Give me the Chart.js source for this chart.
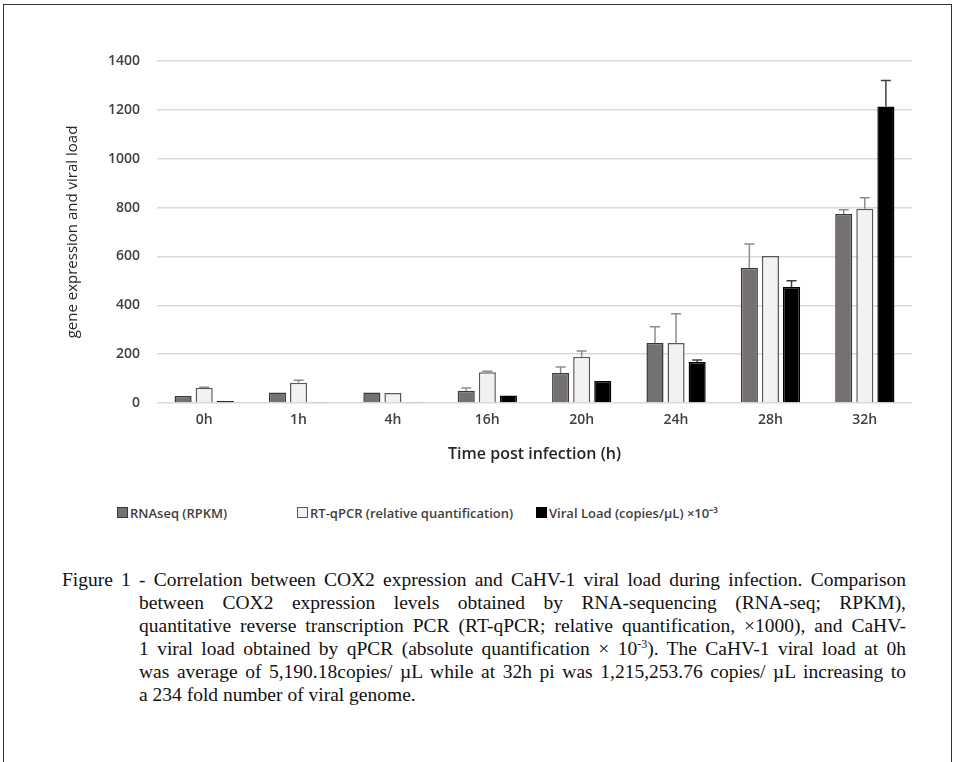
<!DOCTYPE html>
<html lang="en">
<head>
    <meta charset="UTF-8">
    <title>COX2 expression and CaHV-1 viral load</title>
    <style>
        body {
            margin: 0;
            background: #fff;
            width: 955px;
            height: 762px;
            position: relative;
            overflow: hidden;
        }
        #frame {
            position: absolute;
            left: 3px;
            top: 4px;
            width: 947px;
            height: 800px;
            border-top: 1.5px solid #333;
            border-left: 1.5px solid #333;
            border-right: 1.5px solid #333;
        }
        #wrap {
            position: absolute;
            left: 0;
            top: 0;
            width: 955px;
            height: 480px;
        }
        #legend {
            position: absolute;
            top: 505px;
            left: 0;
            font-family: "Open Sans", sans-serif;
            font-size: 13px;
            font-weight: 600;
            color: #404040;
        }
        .item {
            position: absolute;
            white-space: nowrap;
            line-height: 16px;
        }
        .box {
            display: inline-block;
            width: 9px;
            height: 9px;
            margin-right: 2px;
            vertical-align: 0px;
        }
        #caption {
            position: absolute;
            left: 62px;
            top: 568px;
            width: 844px;
            font-family: "Liberation Serif", "Times New Roman", serif;
            font-size: 19.5px;
            line-height: 23px;
            color: #111;
        }
        #caption .ln {
            white-space: nowrap;
            text-align: justify;
            text-align-last: justify;
        }
        #caption .in {
            margin-left: 77px;
        }
        #caption .last {
            text-align-last: left;
        }
    </style>
    <script src="https://cdn.jsdelivr.net/npm/chart.js"></script>
</head>
<body>
    <div id="frame"></div>
    <div id="wrap"><canvas id="graph" width="955" height="480"></canvas></div>
    <div id="legend"></div>
    <div id="caption">
        <div class="ln">Figure 1 - Correlation between COX2 expression and CaHV-1 viral load during infection. Comparison</div>
        <div class="ln in">between COX2 expression levels obtained by RNA-sequencing (RNA-seq; RPKM),</div>
        <div class="ln in">quantitative reverse transcription PCR (RT-qPCR; relative quantification, ×1000), and CaHV-</div>
        <div class="ln in">1 viral load obtained by qPCR (absolute quantification × 10<sup style="font-size:12px;line-height:0">-3</sup>). The CaHV-1 viral load at 0h</div>
        <div class="ln in">was average of 5,190.18copies/ µL while at 32h pi was 1,215,253.76 copies/ µL increasing to</div>
        <div class="ln in last">a 234 fold number of viral genome.</div>
    </div>

    <script>
        // data
        const timePoints = ['0h', '1h', '4h', '16h', '20h', '24h', '28h', '32h'];
        const rnaseq = [29, 43, 43, 50, 123, 246, 554, 774];
        const rnaseqErr = [0, 0, 0, 11, 24, 66, 97, 17];
        const rtqpcr = [62, 83, 41, 126, 189, 246, 602, 795];
        const rtqpcrErr = [2, 10, 0, 4, 24, 119, 0, 45];
        const viral = [8, 2, 2, 31, 90, 168, 475, 1214];
        const viralErr = [0, 0, 0, 0, 0, 8, 25, 106];
        const yTicks = [0, 200, 400, 600, 800, 1000, 1200, 1400];

        const seriesLabels = ['RNAseq (RPKM)', 'RT-qPCR (relative quantification)', 'Viral Load (copies/µL) ×10⁻³'];
        const fills = ['#767171', '#f2f2f2', '#000000'];
        const borders = ['#3b3838', '#595959', '#000000'];
        const errs = [rnaseqErr, rtqpcrErr, viralErr];
        const legendX = [117, 297, 536];

        const tickFont = { family: '"Open Sans", sans-serif', size: 14, weight: '600' };

        // simple upper error bars, drawn through the y scale
        const errorBars = {
            id: 'errorBars',
            afterDatasetsDraw(chart) {
                const ctx = chart.ctx;
                const y = chart.scales.y;
                ctx.save();
                chart.data.datasets.forEach((ds, di) => {
                    const meta = chart.getDatasetMeta(di);
                    meta.data.forEach((bar, i) => {
                        const e = errs[di][i];
                        if (!e) return;
                        const top = y.getPixelForValue(ds.data[i] + e);
                        ctx.strokeStyle = di === 2 ? '#404040' : '#8c8c8c';
                        ctx.lineWidth = 1.5;
                        ctx.beginPath();
                        ctx.moveTo(bar.x, bar.y);
                        ctx.lineTo(bar.x, top);
                        ctx.moveTo(bar.x - 5, top);
                        ctx.lineTo(bar.x + 5, top);
                        ctx.stroke();
                    });
                });
                ctx.restore();
            }
        };

        const ctx = document.getElementById('graph').getContext('2d');
        new Chart(ctx, {
            type: 'bar',
            data: {
                labels: timePoints,
                datasets: [rnaseq, rtqpcr, viral].map((d, i) => ({
                    label: seriesLabels[i],
                    data: d,
                    backgroundColor: fills[i],
                    borderColor: borders[i],
                    borderWidth: 1.5,
                    categoryPercentage: 0.67,
                    barPercentage: 0.81
                }))
            },
            options: {
                responsive: false,
                animation: false,
                layout: { padding: { left: 60, right: 43, top: 61, bottom: 12 } },
                plugins: {
                    legend: { display: false },
                    tooltip: { enabled: false }
                },
                scales: {
                    x: {
                        grid: { display: false, drawTicks: false },
                        border: { display: false },
                        ticks: { color: '#404040', font: tickFont, padding: 9 },
                        title: {
                            display: true,
                            text: 'Time post infection (h)',
                            color: '#262626',
                            font: { family: '"Open Sans", sans-serif', size: 16, weight: '600' },
                            padding: { top: 5 }
                        },
                        afterFit(s) { s.height = 65; }
                    },
                    y: {
                        min: 0,
                        max: 1400,
                        afterBuildTicks(s) { s.ticks = yTicks.map(v => ({ value: v })); },
                        grid: { color: '#d9d9d9', lineWidth: 1.5, drawTicks: false },
                        border: { display: false },
                        ticks: {
                            color: '#404040',
                            font: tickFont,
                            padding: 17,
                            callback: v => String(v)
                        },
                        title: {
                            display: true,
                            text: 'gene expression and viral load',
                            color: '#262626',
                            font: { family: '"Open Sans", sans-serif', size: 15 },
                            padding: { bottom: 2 }
                        },
                        afterFit(s) { s.width = 97; }
                    }
                }
            },
            plugins: [errorBars]
        });

        // legend, built from the series
        const lg = document.getElementById('legend');
        seriesLabels.forEach((t, i) => {
            const it = document.createElement('div');
            it.className = 'item';
            it.style.left = legendX[i] + 'px';
            const b = document.createElement('span');
            b.className = 'box';
            b.style.background = fills[i];
            b.style.border = '1px solid ' + borders[i];
            it.appendChild(b);
            it.appendChild(document.createTextNode(t));
            lg.appendChild(it);
        });
    </script>
</body>
</html>
